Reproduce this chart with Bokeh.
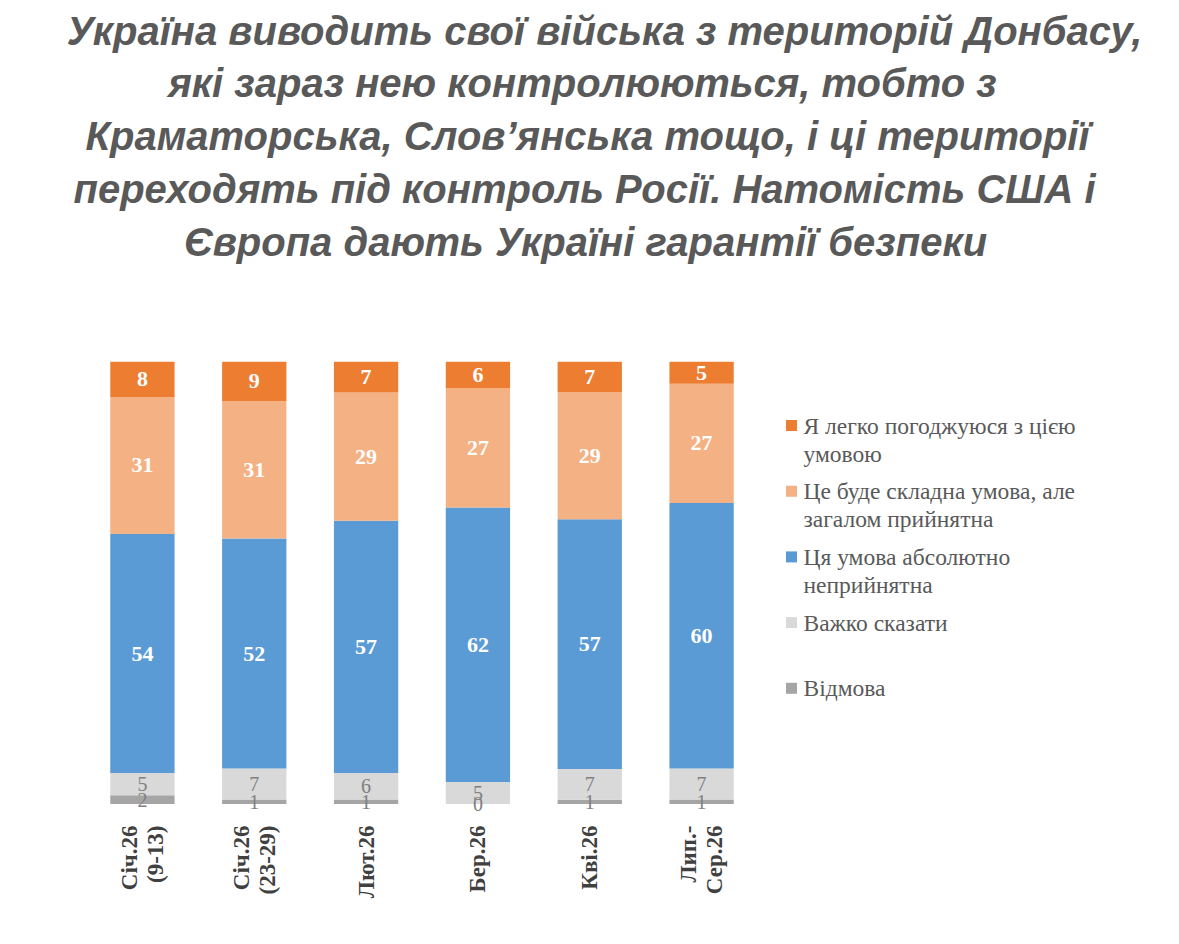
import numpy as np
from bokeh.plotting import figure
from bokeh.models import ColumnDataSource, Range1d, FactorRange
from bokeh.layouts import column, row
from bokeh.embed import file_html
from bokeh.resources import INLINE
from bokeh.core.properties import value

# ---------------- data ----------------
title_lines = [
    "Україна виводить свої війська з територій Донбасу,",
    "які зараз нею контролюються, тобто з",
    "Краматорська, Слов’янська тощо, і ці території",
    "переходять під контроль Росії. Натомість США і",
    "Європа дають Україні гарантії безпеки",
]
categories = ["Січ.26\n(9-13)", "Січ.26\n(23-29)", "Лют.26", "Бер.26", "Кві.26", "Лип.-\nСер.26"]

# stacked bottom -> top
refuse       = [2, 1, 1, 0, 1, 1]
dont_know    = [5, 7, 6, 5, 7, 7]
unacceptable = [54, 52, 57, 62, 57, 60]
hard_ok      = [31, 31, 29, 27, 29, 27]
easy         = [8, 9, 7, 6, 7, 5]

series = [refuse, dont_know, unacceptable, hard_ok, easy]
series_names = ["Відмова", "Важко сказати", "Ця умова абсолютно неприйнятна",
                "Це буде складна умова, але загалом прийнятна",
                "Я легко погоджуюся з цією умовою"]
legend_labels = ["Я легко погоджуюся з цією\nумовою",
                 "Це буде складна умова, але\nзагалом прийнятна",
                 "Ця умова абсолютно\nнеприйнятна",
                 "Важко сказати",
                 "Відмова"]
colors = ["#A5A5A5", "#D9D9D9", "#5B9BD5", "#F4B183", "#ED7D31"]

TITLE_COLOR = "#595959"
LABEL_COLOR = "#404040"

# ---------------- title figure ----------------
TW, TH = 1163, 298
t = figure(width=TW, height=TH, x_range=Range1d(0, TW), y_range=Range1d(TH, 0),
           output_backend="svg", toolbar_location=None, min_border=0)
t.axis.visible = False
t.grid.visible = False
t.outline_line_color = None
title_x = [604, 582, 587, 584, 585]
title_y = [30 + 52.8 * i for i in range(len(title_lines))]
t.text(x=title_x, y=title_y, text=title_lines, text_align="center",
       text_baseline="alphabetic", text_font=value("Liberation Sans"),
       text_font_style="bold italic", text_font_size="40px", text_color=TITLE_COLOR)

# ---------------- bar figure ----------------
y0 = -3.5
PW, PH = 757, 631
BT, BB = 63, 110
p = figure(width=PW, height=PH, x_range=FactorRange(*categories, range_padding=0),
           y_range=Range1d(y0, 100), output_backend="svg", toolbar_location=None,
           min_border_left=86, min_border_right=0, min_border_top=BT,
           min_border_bottom=BB)
p.yaxis.visible = False
p.grid.visible = False
p.outline_line_color = None
p.xaxis.axis_line_color = None
p.xaxis.major_tick_line_color = None
p.xaxis.minor_tick_line_color = None
p.xaxis.major_label_orientation = np.pi / 2
p.xaxis.major_label_standoff = 0
p.xaxis.major_label_text_font = "Liberation Serif"
p.xaxis.major_label_text_font_style = "bold"
p.xaxis.major_label_text_font_size = "23px"
p.xaxis.major_label_text_color = LABEL_COLOR
p.xaxis.major_label_text_line_height = 1.05

totals = np.sum(np.array(series, dtype=float), axis=0)
bottom = np.zeros(len(categories))
lab_x, lab_y, lab_t = [], [], []
for k, (vals, col) in enumerate(zip(series, colors)):
    share = np.array(vals, dtype=float) / totals * 100
    top = bottom + share
    src = ColumnDataSource(dict(x=categories, bottom=bottom.copy(), top=top.copy()))
    p.vbar(x="x", bottom="bottom", top="top", width=0.575, source=src,
           fill_color=col, line_color=None)
    mids = (bottom + top) / 2
    for c, m, v in zip(categories, mids, vals):
        lab_x.append(c)
        lab_y.append(m)
        lab_t.append(str(v))
    bottom = top

n = len(categories)
white_src = ColumnDataSource(dict(x=lab_x[2 * n:], y=lab_y[2 * n:], t=lab_t[2 * n:]))
gray_src = ColumnDataSource(dict(x=lab_x[:2 * n], y=lab_y[:2 * n], t=lab_t[:2 * n]))
p.text(x="x", y="y", text="t", source=white_src, text_align="center",
       text_baseline="middle", text_font=value("Liberation Serif"),
       text_font_style="bold", text_font_size="22px", text_color="white")
p.text(x="x", y="y", text="t", source=gray_src, text_align="center",
       text_baseline="middle", text_font=value("Liberation Serif"),
       text_font_size="20px", text_color="#808080")

# ---------------- legend figure ----------------
QW = TW - PW
FH = PH - BT - BB   # frame height in px, aligned with the bar frame
q = figure(width=QW, height=PH, x_range=Range1d(0, QW), y_range=Range1d(FH, 0),
           output_backend="svg", toolbar_location=None, min_border_left=0,
           min_border_right=0, min_border_top=BT, min_border_bottom=BB)
q.axis.visible = False
q.grid.visible = False
q.outline_line_color = None
leg_colors = colors[::-1]
sq_y = [64 + 65.7 * i for i in range(len(legend_labels))]
q.rect(x=[34] * len(sq_y), y=sq_y, width=11, height=11, fill_color=leg_colors, line_color=None)
tx, ty, tt = [], [], []
for yy, lab in zip(sq_y, legend_labels):
    for j, line in enumerate(lab.split("\n")):
        tx.append(46)
        ty.append(yy + 28 * j)
        tt.append(line)
q.text(x=tx, y=ty, text=tt, text_align="left", text_baseline="middle",
       text_font=value("Liberation Serif"), text_font_size="23.5px", text_color=TITLE_COLOR)

layout = column(t, row(p, q))
open("out.html", "w").write(file_html(layout, INLINE))
